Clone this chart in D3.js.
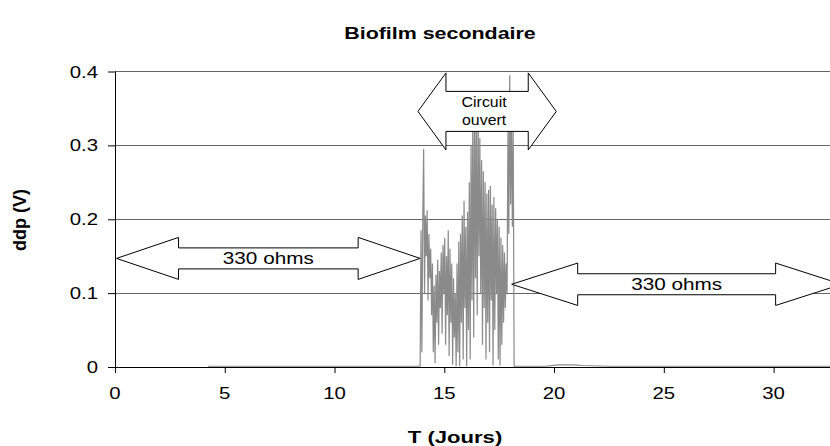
<!DOCTYPE html>
<html>
<head>
<meta charset="utf-8">
<script src="https://cdn.jsdelivr.net/npm/d3@7"></script>
<style>
  html, body { margin: 0; padding: 0; background: #fff; }
  svg { display: block; font-family: "Liberation Sans", Arial, sans-serif; }
</style>
</head>
<body>
<svg id="chart" width="830" height="446"></svg>
<script>
// ---- data ----
const chartTitle = "Biofilm secondaire";
const xLabel = "T (Jours)";
const yLabel = "ddp (V)";
const xTicks = [0, 5, 10, 15, 20, 25, 30];
const yTicks = [0, 0.1, 0.2, 0.3, 0.4];
const yTickLabels = ["0", "0.1", "0.2", "0.3", "0.4"];

const days = [
  4.24, 6.5, 9.0, 11.5, 13.86,
  13.90, 13.94, 13.98, 14.02, 14.06, 14.10, 14.14, 14.18, 14.22, 14.26,
  14.30, 14.34, 14.38, 14.42, 14.46, 14.50, 14.54, 14.58, 14.62, 14.66,
  14.70, 14.74, 14.78, 14.82, 14.86, 14.90, 14.94, 14.98, 15.02, 15.06,
  15.10, 15.14, 15.18, 15.22, 15.26, 15.30, 15.34, 15.38, 15.42, 15.46,
  15.50, 15.54, 15.58, 15.62, 15.66, 15.70, 15.74, 15.78, 15.82, 15.86,
  15.90, 15.94, 15.98, 16.02, 16.06, 16.10, 16.14, 16.18, 16.22, 16.26,
  16.30, 16.34, 16.38, 16.42, 16.46, 16.50, 16.54, 16.58, 16.62, 16.66,
  16.70, 16.74, 16.78, 16.82, 16.86, 16.90, 16.94, 16.98, 17.02, 17.06,
  17.10, 17.14, 17.18, 17.22, 17.26, 17.30, 17.34, 17.38, 17.42, 17.46,
  17.50, 17.54, 17.58, 17.62, 17.66, 17.70, 17.74, 17.78, 17.82, 17.86,
  17.90, 17.94, 17.98, 18.02, 18.06, 18.10, 18.14, 18.18,
  18.22, 19.6, 20.2, 20.5, 20.9, 21.3, 22.5, 26.0, 29.5, 32.57
];
const ddp = [
  0.001, 0.001, 0.001, 0.001, 0.001,
  0.001, 0.185, 0.020, 0.200, 0.295, 0.100, 0.205, 0.150, 0.212, 0.090,
  0.180, 0.120, 0.160, 0.070, 0.140, 0.020, 0.110, 0.005, 0.125, 0.060,
  0.145, 0.030, 0.130, 0.080, 0.155, 0.045, 0.165, 0.100, 0.175, 0.030,
  0.150, 0.070, 0.185, 0.015, 0.160, 0.060, 0.140, 0.003, 0.120, 0.040,
  0.100, 0.001, 0.140, 0.020, 0.170, 0.001, 0.180, 0.060, 0.205, 0.010,
  0.225, 0.080, 0.190, 0.001, 0.210, 0.050, 0.250, 0.010, 0.300, 0.090,
  0.340, 0.040, 0.360, 0.120, 0.330, 0.070, 0.350, 0.150, 0.310, 0.100,
  0.280, 0.030, 0.265, 0.080, 0.250, 0.010, 0.235, 0.060, 0.240, 0.020,
  0.245, 0.090, 0.220, 0.002, 0.230, 0.050, 0.215, 0.100, 0.200, 0.010,
  0.190, 0.002, 0.175, 0.030, 0.165, 0.060, 0.155, 0.080, 0.140, 0.100,
  0.320, 0.180, 0.395, 0.220, 0.350, 0.190, 0.320, 0.001,
  0.001, 0.001, 0.003, 0.003, 0.003, 0.002, 0.001, 0.001, 0.001, 0.001
];

// annotation arrows (data units for the extent and centre line)
const arrowLabels = ["330 ohms", "330 ohms", "Circuit|ouvert"];
const arrowStart = [0.07, 18.07, 13.80];
const arrowEnd = [13.90, 33.10, 20.10];
const arrowLevel = [0.147, 0.112, 0.346];

// ---- layout ----
const W = 830, H = 446;
const m = { left: 115, right: 0, top: 71.5, bottom: 79 };
const svg = d3.select("#chart");
const x = d3.scaleLinear().domain([0, 32.57]).range([m.left, W - m.right]);
const y = d3.scaleLinear().domain([0, 0.4]).range([H - m.bottom, m.top]);
const SX = 1.22; // horizontal stretch of the original picture's lettering

function stretchedText(g, px, py, str, opts) {
  return g.append("text")
    .attr("transform", `translate(${px},${py}) scale(${opts.sx || SX},1)`)
    .attr("text-anchor", opts.anchor || "middle")
    .attr("font-size", opts.size || 15)
    .attr("font-weight", opts.bold ? "bold" : "normal")
    .attr("fill", "#000")
    .text(str);
}

svg.append("defs").append("clipPath").attr("id", "plotclip")
  .append("rect").attr("x", m.left).attr("y", 0)
  .attr("width", W - m.left).attr("height", H - m.bottom + 1);

// gridlines
svg.append("g")
  .selectAll("line").data(yTicks.filter(d => d > 0)).join("line")
  .attr("x1", m.left).attr("x2", W)
  .attr("y1", d => y(d)).attr("y2", d => y(d))
  .attr("stroke", "#666").attr("stroke-width", 1)
  .attr("shape-rendering", "crispEdges");

// series
const pts = days.map((d, i) => [d, ddp[i]]);
svg.append("path")
  .datum(pts)
  .attr("clip-path", "url(#plotclip)")
  .attr("fill", "none")
  .attr("stroke", "#8a8a8a")
  .attr("stroke-width", 1.2)
  .attr("d", d3.line().x(d => x(d[0])).y(d => y(d[1])));

// axes
const xAxis = d3.axisBottom(x).tickValues(xTicks).tickSize(6).tickFormat("");
const gx = svg.append("g").attr("transform", `translate(0,${y(0)})`).call(xAxis);
gx.select(".domain").attr("d", `M${m.left},0.5H${W}`).attr("stroke", "#000");
gx.selectAll(".tick line").attr("stroke", "#000").attr("y1", 0);
const yAxis = d3.axisLeft(y).tickValues(yTicks).tickSize(7).tickFormat("");
const gy = svg.append("g").attr("transform", `translate(${m.left},0)`).call(yAxis);
gy.select(".domain").attr("d", `M0.5,${y(0.4)}V${y(0)}`).attr("stroke", "#000");
gy.selectAll(".tick line").attr("stroke", "#000");

// tick labels
xTicks.forEach(v => stretchedText(svg, x(v), 399, String(v), { size: 17, sx: 1.2 }));
yTicks.forEach((v, i) => stretchedText(svg, 98, y(v) + 6, yTickLabels[i], { size: 17, sx: 1.2, anchor: "end" }));

// arrows
const headLen = [62, 66, 28];
const headHalf = [21, 21.2, 38.5];
const bodyHalf = [10.5, 10.5, 20];
const ag = svg.append("g");
arrowLabels.forEach((lab, i) => {
  const x0 = x(arrowStart[i]), x1 = x(arrowEnd[i]), cy = y(arrowLevel[i]);
  const hl = headLen[i], hh = headHalf[i], bh = bodyHalf[i];
  const poly = [
    [x0, cy], [x0 + hl, cy - hh], [x0 + hl, cy - bh], [x1 - hl, cy - bh],
    [x1 - hl, cy - hh], [x1, cy], [x1 - hl, cy + hh], [x1 - hl, cy + bh],
    [x0 + hl, cy + bh], [x0 + hl, cy + hh]
  ];
  ag.append("path")
    .attr("d", "M" + poly.map(p => p.join(",")).join("L") + "Z")
    .attr("fill", "#fff").attr("stroke", "#000").attr("stroke-width", 1);
  const lines = lab.split("|");
  const cx = (x0 + x1) / 2;
  if (lines.length === 1) {
    stretchedText(ag, cx, cy + 6, lines[0], { size: 17, sx: 1.22 });
  } else {
    stretchedText(ag, cx - 3, cy - 4.5, lines[0], { size: 15, sx: 1.06 });
    stretchedText(ag, cx - 3, cy + 14, lines[1], { size: 15, sx: 1.06 });
  }
});

// titles
stretchedText(svg, 440, 39, chartTitle, { size: 17, bold: true, sx: 1.26 });
stretchedText(svg, 455, 443, xLabel, { size: 17, bold: true, sx: 1.3 });
svg.append("text")
  .attr("transform", `translate(26,220) rotate(-90)`)
  .attr("text-anchor", "middle")
  .attr("font-size", 18).attr("font-weight", "bold")
  .text(yLabel);
</script>
</body>
</html>
